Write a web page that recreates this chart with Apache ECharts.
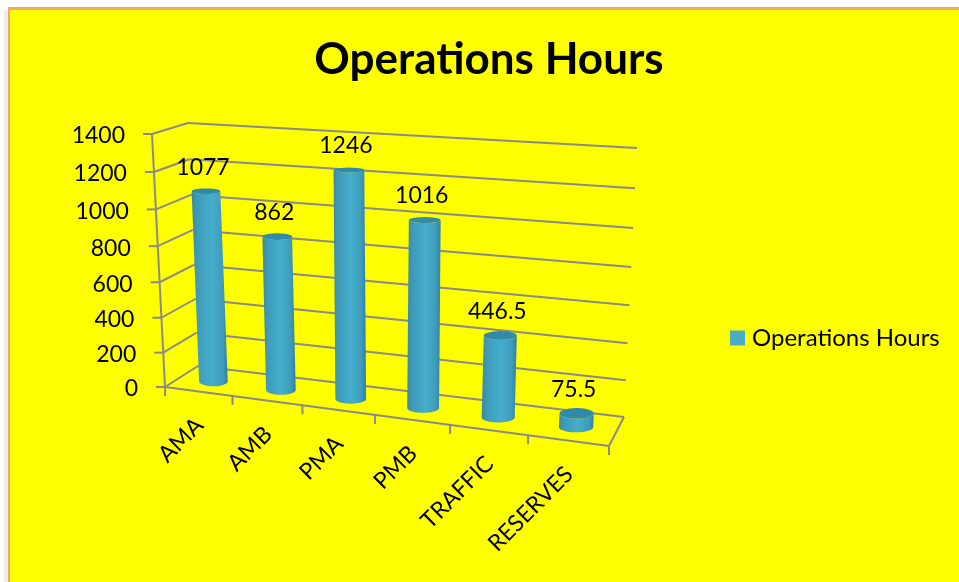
<!DOCTYPE html>
<html>
<head>
<meta charset="utf-8">
<title>Operations Hours</title>
<script src="https://cdn.jsdelivr.net/npm/echarts@6/dist/echarts.min.js"></script>
<style>
    html, body { margin: 0; padding: 0; background: #fff; }
    #chart { width: 959px; height: 582px; }
</style>
</head>
<body>
<div id="chart"></div>
<script>
    const seriesName = 'Operations Hours';
    const categories = ['AMA', 'AMB', 'PMA', 'PMB', 'TRAFFIC', 'RESERVES'];
    const hours = [1077, 862, 1246, 1016, 446.5, 75.5];
    const yTicks = [0, 200, 400, 600, 800, 1000, 1200, 1400];

    const font = 'Lato';
    const lineColor = '#8a8a88';

    // corners of the 3d box on screen, [u, v] = [0,0] [1,0] [1,1] [0,1]
    const backWall = squareToQuad([198, 366], [624, 417], [637, 148], [188, 123]);
    const frontWall = squareToQuad([165, 387], [609, 446], [625, 166], [152, 134]);

    function squareToQuad(p0, p1, p2, p3) {
        let dx1 = p1[0] - p2[0], dx2 = p3[0] - p2[0], sx = p0[0] - p1[0] + p2[0] - p3[0];
        let dy1 = p1[1] - p2[1], dy2 = p3[1] - p2[1], sy = p0[1] - p1[1] + p2[1] - p3[1];
        let den = dx1 * dy2 - dx2 * dy1;
        let g = (sx * dy2 - dx2 * sy) / den;
        let h = (dx1 * sy - sx * dy1) / den;
        return {
            a: p1[0] - p0[0] + g * p1[0], b: p3[0] - p0[0] + h * p3[0], c: p0[0],
            d: p1[1] - p0[1] + g * p1[1], e: p3[1] - p0[1] + h * p3[1], f: p0[1],
            g: g, h: h
        };
    }

    function onPlane(m, u, v) {
        let w = m.g * u + m.h * v + 1;
        return [(m.a * u + m.b * v + m.c) / w, (m.d * u + m.e * v + m.f) / w];
    }

    // depth 0 = back wall, depth 1 = front of the floor
    function project(u, v, depth) {
        let b = onPlane(backWall, u, v);
        let f = onPlane(frontWall, u, v);
        return [b[0] + (f[0] - b[0]) * depth, b[1] + (f[1] - b[1]) * depth];
    }

    // axis pixel -> share of the box
    function toBox(api, params, x, y) {
        let rect = params.coordSys;
        let pt = api.coord([x, y]);
        return [(pt[0] - rect.x) / rect.width, (rect.y + rect.height - pt[1]) / rect.height];
    }

    function line(a, b, width) {
        return {
            type: 'line',
            shape: { x1: a[0], y1: a[1], x2: b[0], y2: b[1] },
            style: { stroke: lineColor, lineWidth: width || 2, fill: null }
        };
    }

    function renderGrid(params, api) {
        let v = toBox(api, params, 0, api.value(1))[1];
        let front = project(0, v, 1);
        let back = project(0, v, 0);
        let right = project(1, v, 0);
        let children = [
            line(front, back),
            line(back, right),
            line([front[0] - 9, front[1]], front),
            {
                type: 'text',
                x: front[0] - 27,
                y: front[1] + 2,
                style: {
                    text: String(api.value(1)),
                    align: 'right',
                    verticalAlign: 'middle',
                    fill: '#000',
                    fontFamily: font,
                    fontSize: 23
                }
            }
        ];
        return { type: 'group', children: children };
    }

    function renderFrame() {
        let children = [
            line(project(0, 0, 1), project(0, 1, 1)),
            line(project(0, 0, 1), project(1, 0, 1)),
            line(project(1, 0, 1), project(1, 0, 0))
        ];
        for (let i = 0; i <= categories.length; i++) {
            let p = project(i / categories.length, 0, 1);
            children.push(line(p, [p[0], p[1] + 9]));
        }
        return { type: 'group', children: children };
    }

    function renderCategoryLabel(params, api) {
        let i = api.value(0);
        let u = toBox(api, params, i, 0)[0];
        let p = project(u, 0, 1);
        return {
            type: 'text',
            x: p[0] + 1,
            y: p[1] + 30,
            rotation: Math.PI / 4,
            style: {
                text: categories[i],
                align: 'right',
                verticalAlign: 'middle',
                fill: '#000',
                fontFamily: font,
                fontSize: 23
            }
        };
    }

    function ellipsePoints(cx, cy, rx, ry, from, to) {
        let pts = [];
        for (let k = 0; k <= 24; k++) {
            let a = from + (to - from) * k / 24;
            pts.push([cx + rx * Math.cos(a), cy + ry * Math.sin(a)]);
        }
        return pts;
    }

    function renderBar(params, api) {
        let value = api.value(1);
        let box = toBox(api, params, api.value(0), value);
        let u = box[0], v = box[1];
        let radius = 0.036;
        let depth = 0.53;
        let baseL = project(u - radius, 0, depth), baseR = project(u + radius, 0, depth);
        let topL = project(u - radius, v, depth), topR = project(u + radius, v, depth);
        let base = [(baseL[0] + baseR[0]) / 2, (baseL[1] + baseR[1]) / 2];
        let top = [(topL[0] + topR[0]) / 2, (topL[1] + topR[1]) / 2];
        let rx = (baseR[0] - baseL[0]) / 2;
        let topRy = 5.5 - 3.5 * v;
        let body = ellipsePoints(base[0], base[1], rx, 5, 0, Math.PI);
        body.push([top[0] - rx, top[1]]);
        body = body.concat(ellipsePoints(top[0], top[1], rx, topRy, Math.PI, 0));
        return {
            type: 'group',
            children: [
                {
                    type: 'polygon',
                    shape: { points: body },
                    style: {
                        fill: {
                            type: 'linear', x: 0, y: 0, x2: 1, y2: 0,
                            colorStops: [
                                { offset: 0, color: '#3a88a6' },
                                { offset: 0.15, color: '#3f9ab8' },
                                { offset: 0.55, color: '#45aecd' },
                                { offset: 0.85, color: '#3f9cba' },
                                { offset: 1, color: '#2f7f9e' }
                            ]
                        }
                    }
                },
                {
                    type: 'polygon',
                    shape: { points: ellipsePoints(top[0], top[1], rx, topRy, 0, Math.PI * 2) },
                    style: { fill: '#318aa8' }
                },
                {
                    type: 'text',
                    x: top[0] - 3,
                    y: top[1] - 24,
                    style: {
                        text: String(value),
                        align: 'center',
                        verticalAlign: 'middle',
                        fill: '#000',
                        fontFamily: font,
                        fontSize: 23
                    }
                }
            ]
        };
    }

    const option = {
        animation: false,
        backgroundColor: '#fff',
        graphic: [
            { type: 'rect', silent: true, z: -10, shape: { x: 4, y: 11, width: 4, height: 571 }, style: { fill: '#eeeeee' } },
            { type: 'rect', silent: true, z: -9, shape: { x: 8, y: 7, width: 951, height: 575 }, style: { fill: '#f8a46c' } },
            { type: 'rect', silent: true, z: -8, shape: { x: 10, y: 10, width: 949, height: 572 }, style: { fill: '#ffff00' } }
        ],
        title: {
            text: 'Operations Hours',
            left: 484,
            top: 33,
            textAlign: 'center',
            textStyle: { color: '#000', fontFamily: font, fontWeight: 'bold', fontSize: 44 }
        },
        legend: {
            data: [seriesName],
            left: 725,
            top: 321,
            icon: 'rect',
            itemWidth: 15,
            itemHeight: 15,
            itemGap: 0,
            textStyle: { color: '#000', fontFamily: font, fontSize: 24, padding: [0, 0, 0, 2] }
        },
        grid: { left: 165, right: 350, top: 134, bottom: 195 },
        xAxis: { type: 'category', data: categories, show: false },
        yAxis: { type: 'value', min: 0, max: 1400, interval: 200, show: false },
        series: [
            {
                type: 'custom',
                renderItem: renderGrid,
                clip: false,
                silent: true,
                z: 1,
                encode: { x: 0, y: 1 },
                data: yTicks.map(function (t) { return [0, t]; })
            },
            {
                type: 'custom',
                renderItem: renderFrame,
                clip: false,
                silent: true,
                z: 1,
                encode: { x: 0, y: 1 },
                data: [[0, 0]]
            },
            {
                type: 'custom',
                renderItem: renderCategoryLabel,
                clip: false,
                silent: true,
                z: 1,
                encode: { x: 0, y: 1 },
                data: categories.map(function (c, i) { return [i, 0]; })
            },
            {
                name: seriesName,
                type: 'custom',
                renderItem: renderBar,
                clip: false,
                z: 2,
                itemStyle: { color: '#4bacc6' },
                encode: { x: 0, y: 1 },
                data: hours.map(function (h, i) { return [i, h]; })
            }
        ]
    };

    const myChart = echarts.init(document.getElementById('chart'));
    myChart.setOption(option);
</script>
</body>
</html>
